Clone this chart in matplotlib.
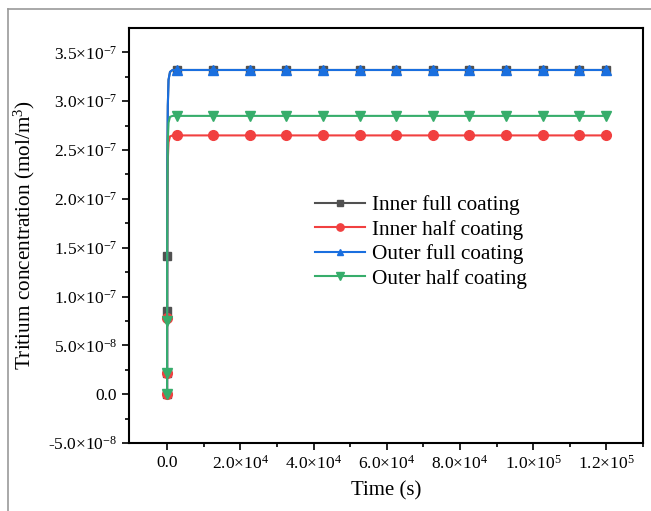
import numpy as np
import matplotlib
matplotlib.use("Agg")
import matplotlib.pyplot as plt
from matplotlib.lines import Line2D

plt.rcParams['font.family'] = ['Liberation Serif', 'DejaVu Serif']
plt.rcParams['mathtext.fontset'] = 'custom'
plt.rcParams['mathtext.rm'] = 'Liberation Serif'
plt.rcParams['mathtext.it'] = 'Liberation Serif:italic'

# Thời gian (s): điểm sát 0 cho đoạn tăng vọt, sau đó các điểm có marker
time = [0, 10, 20, 30, 80, 200, 400, 800, 1500,
        2600, 12600, 22600, 32600, 42600, 52600, 62600,
        72600, 82600, 92600, 102600, 112600, 120000]

inner_full = [0, 2.2e-8, 8.5e-8, 1.42e-7, 2.35e-7, 2.95e-7, 3.22e-7, 3.30e-7, 3.32e-7] + [3.32e-7] * 13
inner_half = [0, 2.2e-8, 7.8e-8, 1.30e-7, 1.95e-7, 2.40e-7, 2.58e-7, 2.64e-7, 2.65e-7] + [2.65e-7] * 13
outer_full = [0, 2.2e-8, 8.5e-8, 1.42e-7, 2.35e-7, 2.95e-7, 3.22e-7, 3.30e-7, 3.32e-7] + [3.32e-7] * 13
outer_half = [0, 2.2e-8, 7.5e-8, 1.25e-7, 2.05e-7, 2.60e-7, 2.78e-7, 2.84e-7, 2.85e-7] + [2.85e-7] * 13

labels = ["Inner full coating", "Inner half coating", "Outer full coating", "Outer half coating"]
colors = ["#515151", "#F14040", "#1A6FDF", "#37AD6B"]
markers = ["s", "o", "^", "v"]
msizes = [6, 7, 6.5, 7.5]
plateau = list(range(9, 22))
mark_idx = [[0, 1, 2, 3] + plateau, [0, 1, 2] + plateau, plateau, [0, 1, 2] + plateau]

xticks = [0, 2e4, 4e4, 6e4, 8e4, 1e5, 1.2e5]
xticklabels = ["0.0", "2.0\u00d710$^{4}$", "4.0\u00d710$^{4}$", "6.0\u00d710$^{4}$",
               "8.0\u00d710$^{4}$", "1.0\u00d710$^{5}$", "1.2\u00d710$^{5}$"]
yticks = [-5e-8, 0, 5e-8, 1e-7, 1.5e-7, 2e-7, 2.5e-7, 3e-7, 3.5e-7]
yticklabels = ["-5.0\u00d710$^{-8}$", "0.0", "5.0\u00d710$^{-8}$", "1.0\u00d710$^{-7}$",
               "1.5\u00d710$^{-7}$", "2.0\u00d710$^{-7}$", "2.5\u00d710$^{-7}$",
               "3.0\u00d710$^{-7}$", "3.5\u00d710$^{-7}$"]

fig = plt.figure(figsize=(6.51, 5.11), dpi=100)
ax = fig.add_axes([129 / 651, 68 / 511, 514 / 651, 415 / 511])

series = [inner_full, inner_half, outer_full, outer_half]
for y, lab, c, m, ms, me in zip(series, labels, colors, markers, msizes, mark_idx):
    ax.plot(time, y, color=c, marker=m, markersize=ms, markevery=me, lw=1.5, label=lab)

ax.set_xlim(-1.04e4, 1.3e5)
ax.set_ylim(-5e-8, 3.75e-7)
ax.set_xticks(xticks)
ax.set_xticklabels(xticklabels)
ax.set_yticks(yticks)
ax.set_yticklabels(yticklabels)
ax.set_xticks([1e4, 3e4, 5e4, 7e4, 9e4, 1.1e5, 1.3e5], minor=True)
ax.set_yticks([-2.5e-8, 2.5e-8, 7.5e-8, 1.25e-7, 1.75e-7, 2.25e-7, 2.75e-7, 3.25e-7], minor=True)
ax.tick_params(which='major', direction='out', length=5, width=1.2, labelsize=12.5)
ax.tick_params(which='minor', direction='out', length=3, width=1.2)
for s in ax.spines.values():
    s.set_linewidth(1.5)

ax.set_xlabel("Time (s)", fontsize=15, labelpad=6)
ax.set_ylabel("Tritium concentration (mol/m$^{3}$)", fontsize=15.3, labelpad=8)

leg = ax.legend(loc='upper left', bbox_to_anchor=(0.362, 0.597), frameon=False,
                fontsize=15.3, handlelength=2.35, handletextpad=0.33, labelspacing=0.22,
                markerscale=0.75, borderaxespad=0, borderpad=0)

# Khung viền xám bên ngoài
fig.add_artist(Line2D([8 / 651, 1.0], [1 - 9 / 511, 1 - 9 / 511], color='#999999', lw=1.2))
fig.add_artist(Line2D([8 / 651, 8 / 651], [0, 1 - 9 / 511], color='#999999', lw=1.2))

fig.savefig("out.png", dpi=100)
